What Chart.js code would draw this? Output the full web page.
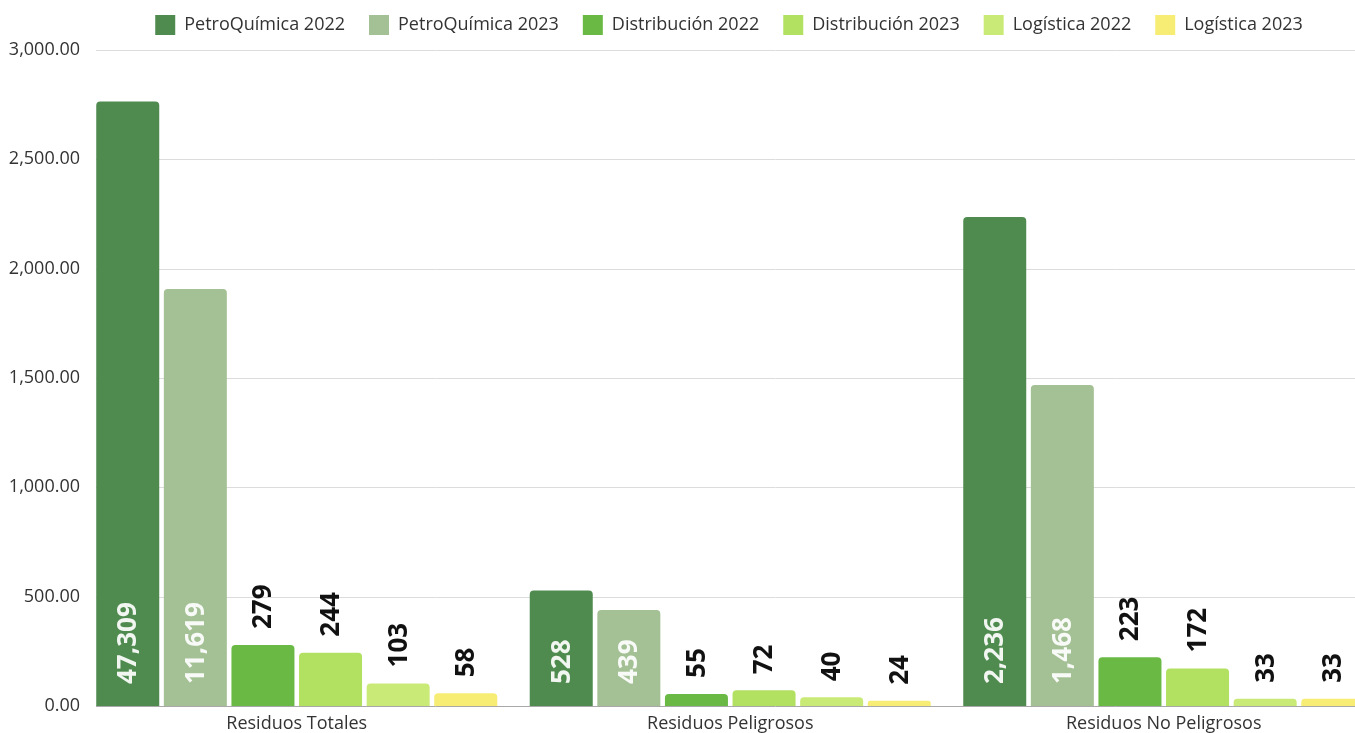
<!DOCTYPE html>
<html>
<head>
<meta charset="utf-8">
<script src="https://cdn.jsdelivr.net/npm/chart.js@4/dist/chart.umd.min.js"></script>
<style>
html,body{margin:0;padding:0;background:#fff;overflow:hidden;}
#wrap{width:1454px;height:733px;}
</style>
</head>
<body>
<div id="wrap"><canvas id="c" width="1454" height="733"></canvas></div>
<script>
const categories = ["Residuos Totales", "Residuos Peligrosos", "Residuos No Peligrosos"];
const seriesNames = ["PetroQuímica 2022", "PetroQuímica 2023", "Distribución 2022", "Distribución 2023", "Logística 2022", "Logística 2023"];
const petro2022 = [2764, 528, 2236];
const petro2023 = [1907, 439, 1468];
const dist2022 = [279, 55, 223];
const dist2023 = [244, 72, 172];
const log2022 = [103, 40, 33];
const log2023 = [58, 24, 33];
const petro2022Labels = ["47,309", "528", "2,236"];
const petro2023Labels = ["11,619", "439", "1,468"];
const dist2022Labels = ["279", "55", "223"];
const dist2023Labels = ["244", "72", "172"];
const log2022Labels = ["103", "40", "33"];
const log2023Labels = ["58", "24", "33"];
const yTicks = [0, 500, 1000, 1500, 2000, 2500, 3000];

const colors = ["#4f8b4f", "#a4c095", "#69b944", "#b2e060", "#caea78", "#f7ed74"];
const seriesValues = [petro2022, petro2023, dist2022, dist2023, log2022, log2023];
const seriesLabels = [petro2022Labels, petro2023Labels, dist2022Labels, dist2023Labels, log2022Labels, log2023Labels];

const FONT = '"Open Sans", "DejaVu Sans", sans-serif';

const legendPatch = {
  id: 'legendPatch',
  beforeUpdate(chart) {
    const lg = chart.legend;
    if (lg && !lg._patched) {
      const orig = lg.fit;
      lg.fit = function () { orig.call(this); this.height = 50; };
      lg._patched = true;
    }
  },
  afterLayout(chart) {
    const lg = chart.legend;
    if (lg) {
      lg.top -= 9; lg.bottom -= 9;
      lg.left = 2; lg.right = chart.width + 2;
    }
  }
};

const gridPlugin = {
  id: 'gridPlugin',
  beforeDatasetsDraw(chart) {
    const ctx = chart.ctx, y = chart.scales.y, area = chart.chartArea;
    const first = chart.getDatasetMeta(0).data[0];
    const x0 = Math.round(first.x - first.width / 2);
    ctx.save();
    yTicks.forEach(v => {
      const py = Math.round(y.getPixelForValue(v)) + 0.5;
      ctx.strokeStyle = v === 0 ? '#a8a8a8' : '#dcdcdc';
      ctx.lineWidth = 1;
      ctx.beginPath();
      ctx.moveTo(x0, py);
      ctx.lineTo(area.right + 80, py);
      ctx.stroke();
    });
    ctx.restore();
  }
};

const labelPlugin = {
  id: 'labelPlugin',
  afterDatasetsDraw(chart) {
    const ctx = chart.ctx;
    ctx.save();
    ctx.font = 'bold 26px ' + FONT;
    ctx.textBaseline = 'middle';
    ctx.textAlign = 'left';
    chart.data.datasets.forEach((ds, di) => {
      const meta = chart.getDatasetMeta(di);
      meta.data.forEach((bar, i) => {
        const txt = seriesLabels[di][i];
        const tw = ctx.measureText(txt).width;
        const h = bar.base - bar.y;
        let start, color;
        if (tw + 44 < h) {
          start = bar.base - 22;
          color = 'rgba(255,255,255,0.92)';
        } else {
          start = bar.y - 16;
          color = '#111';
        }
        ctx.save();
        ctx.translate(bar.x, start);
        ctx.rotate(-Math.PI / 2);
        ctx.fillStyle = color;
        ctx.fillText(txt, 0, 1);
        ctx.restore();
      });
    });
    ctx.restore();
  }
};

new Chart(document.getElementById('c'), {
  type: 'bar',
  data: {
    labels: categories,
    datasets: seriesNames.map((n, i) => ({
      label: n,
      data: seriesValues[i],
      backgroundColor: colors[i],
      borderWidth: 0,
      borderRadius: {topLeft: 4, topRight: 4, bottomLeft: 0, bottomRight: 0},
      borderSkipped: 'bottom',
      barPercentage: 0.932,
      categoryPercentage: 0.9357
    }))
  },
  options: {
    responsive: false,
    animation: false,
    devicePixelRatio: 1,
    layout: { padding: { left: 0, right: 73.5, top: 0, bottom: 0 } },
    plugins: {
      legend: {
        position: 'top',
        align: 'center',
        labels: {
          boxWidth: 20,
          boxHeight: 20,
          padding: 24,
          color: '#333',
          font: { family: FONT, size: 18 }
        }
      },
      tooltip: { enabled: false }
    },
    scales: {
      x: {
        grid: { display: false, drawTicks: false },
        border: { display: false },
        ticks: { color: '#333', padding: 7, font: { family: FONT, size: 18 } },
        afterFit(s) { s.height = 27; }
      },
      y: {
        min: 0,
        max: 3000,
        grid: { display: false, drawTicks: false },
        border: { display: false },
        afterFit(s) { s.width = 80; },
        afterBuildTicks(s) { s.ticks = yTicks.map(v => ({ value: v })); },
        ticks: {
          color: '#333',
          padding: 0,
          font: { family: FONT, size: 18 },
          callback: v => Number(v).toLocaleString('en-US', { minimumFractionDigits: 2, maximumFractionDigits: 2 })
        }
      }
    }
  },
  plugins: [legendPatch, gridPlugin, labelPlugin]
});
</script>
</body>
</html>
